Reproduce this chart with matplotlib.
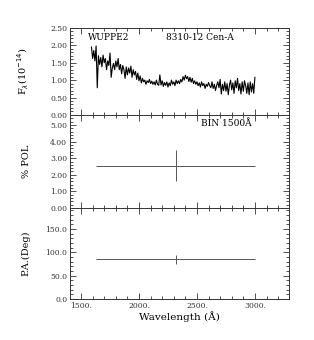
import matplotlib
matplotlib.use("Agg")
import matplotlib.pyplot as plt
from matplotlib.ticker import MultipleLocator, FormatStrFormatter

plt.rcParams['font.family'] = 'DejaVu Serif'

# spectrum, 10 A steps
wave = [1590, 1600, 1610, 1620, 1630, 1640, 1650, 1660, 1670, 1680,
        1690, 1700, 1710, 1720, 1730, 1740, 1750, 1760, 1770, 1780,
        1790, 1800, 1810, 1820, 1830, 1840, 1850, 1860, 1870, 1880,
        1890, 1900, 1910, 1920, 1930, 1940, 1950, 1960, 1970, 1980,
        1990, 2000, 2010, 2020, 2030, 2040, 2050, 2060, 2070, 2080,
        2090, 2100, 2110, 2120, 2130, 2140, 2150, 2160, 2170, 2180,
        2190, 2200, 2210, 2220, 2230, 2240, 2250, 2260, 2270, 2280,
        2290, 2300, 2310, 2320, 2330, 2340, 2350, 2360, 2370, 2380,
        2390, 2400, 2410, 2420, 2430, 2440, 2450, 2460, 2470, 2480,
        2490, 2500, 2510, 2520, 2530, 2540, 2550, 2560, 2570, 2580,
        2590, 2600, 2610, 2620, 2630, 2640, 2650, 2660, 2670, 2680,
        2690, 2700, 2710, 2720, 2730, 2740, 2750, 2760, 2770, 2780,
        2790, 2800, 2810, 2820, 2830, 2840, 2850, 2860, 2870, 2880,
        2890, 2900, 2910, 2920, 2930, 2940, 2950, 2960, 2970, 2980,
        2990, 3000]
flux = [1.95, 1.62, 1.85, 1.55, 1.98, 0.78, 1.70, 1.45, 1.65, 1.38,
        1.72, 1.50, 1.62, 1.30, 1.55, 1.42, 1.78, 1.08, 1.35, 1.48,
        1.30, 1.55, 1.38, 1.62, 1.30, 1.45, 1.18, 1.42, 1.30, 1.05,
        1.38, 1.15, 1.35, 1.20, 1.40, 1.08, 1.30, 1.15, 1.25, 1.02,
        1.20, 0.98, 1.12, 0.92, 1.05, 0.95, 1.00, 0.88, 0.98, 0.93,
        1.02, 0.90, 0.97, 0.88, 0.95, 0.86, 1.00, 0.88, 0.85, 1.15,
        0.86, 0.98, 0.82, 0.93, 0.85, 0.95, 0.80, 0.92, 0.84, 1.00,
        0.88, 0.95, 0.84, 1.00, 0.90, 0.98, 0.90, 1.02, 0.95, 1.10,
        1.00, 1.14, 1.04, 1.10, 0.96, 1.08, 0.94, 1.05, 0.90, 0.98,
        0.88, 0.95, 0.84, 0.92, 0.80, 0.95, 0.84, 0.90, 0.76, 0.88,
        0.82, 0.93, 0.84, 0.78, 0.95, 0.76, 0.88, 0.70, 0.85, 0.95,
        0.78, 1.02, 0.60, 0.88, 0.70, 0.95, 0.68, 0.90, 0.58, 0.85,
        1.00, 0.72, 0.92, 0.62, 0.98, 0.78, 1.05, 0.70, 0.90, 0.60,
        0.95, 0.68, 0.98, 0.84, 0.62, 0.92, 0.58, 0.95, 0.66, 0.90,
        0.62, 1.08]

# one 1500 A bin
bin_wave = [2315]
bin_half = [685]
pol = [2.55]
pol_err = [0.94]
pa = [85.0]
pa_err = [10.0]

fig = plt.figure(figsize=(3.14, 3.40), dpi=100)
left, width = 0.223, 0.697
ax1 = fig.add_axes([left, 0.662, width, 0.256])
ax2 = fig.add_axes([left, 0.388, width, 0.274], sharex=ax1)
ax3 = fig.add_axes([left, 0.121, width, 0.267], sharex=ax1)

ax1.plot(wave, flux, color='black', lw=0.8)
ax2.errorbar(bin_wave, pol, xerr=bin_half, yerr=pol_err, fmt='none',
             ecolor='#555555', elinewidth=0.7, capsize=0)
ax3.errorbar(bin_wave, pa, xerr=bin_half, yerr=pa_err, fmt='none',
             ecolor='#555555', elinewidth=0.7, capsize=0)

ax1.set_ylim(0, 2.5)
ax2.set_ylim(0, 5.6)
ax3.set_ylim(0, 195)
ax3.set_xlim(1405, 3293)

ax1.yaxis.set_major_locator(MultipleLocator(0.5))
ax1.yaxis.set_minor_locator(MultipleLocator(0.1))
ax1.yaxis.set_major_formatter(FormatStrFormatter('%.2f'))
ax2.yaxis.set_major_locator(MultipleLocator(1.0))
ax2.yaxis.set_minor_locator(MultipleLocator(0.2))
ax2.yaxis.set_major_formatter(FormatStrFormatter('%.2f'))
ax3.yaxis.set_major_locator(MultipleLocator(50))
ax3.yaxis.set_minor_locator(MultipleLocator(10))
ax3.yaxis.set_major_formatter(FormatStrFormatter('%.1f'))
ax3.xaxis.set_major_locator(MultipleLocator(500))
ax3.xaxis.set_minor_locator(MultipleLocator(100))
ax3.xaxis.set_major_formatter(FormatStrFormatter('%d.'))

for ax in (ax1, ax2, ax3):
    ax.tick_params(which='both', direction='in', top=True, right=True,
                   labelsize=5.5, width=0.6, colors='#333333', pad=2)
    ax.tick_params(which='major', length=4)
    ax.tick_params(which='minor', length=2)
    for s in ax.spines.values():
        s.set_linewidth(0.7)
        s.set_color('#333333')
    ax.yaxis.set_label_coords(-0.18, 0.5)
ax1.tick_params(labelbottom=False)
ax2.tick_params(labelbottom=False)

ax1.set_ylabel(r'F$_\lambda$(10$^{-14}$)', fontsize=7)
ax2.set_ylabel('% POL', fontsize=7)
ax3.set_ylabel('P.A.(Deg)', fontsize=7)
ax3.set_xlabel('Wavelength (Å)', fontsize=7.5, labelpad=1)

ax1.text(0.08, 0.94, 'WUPPE2', transform=ax1.transAxes, fontsize=6.5,
         va='top', ha='left')
ax1.text(0.44, 0.94, '8310-12 Cen-A', transform=ax1.transAxes, fontsize=6.5,
         va='top', ha='left')
ax2.text(0.60, 0.96, 'BIN 1500Å', transform=ax2.transAxes, fontsize=6.5,
         va='top', ha='left')

fig.savefig('out.png', dpi=100)
